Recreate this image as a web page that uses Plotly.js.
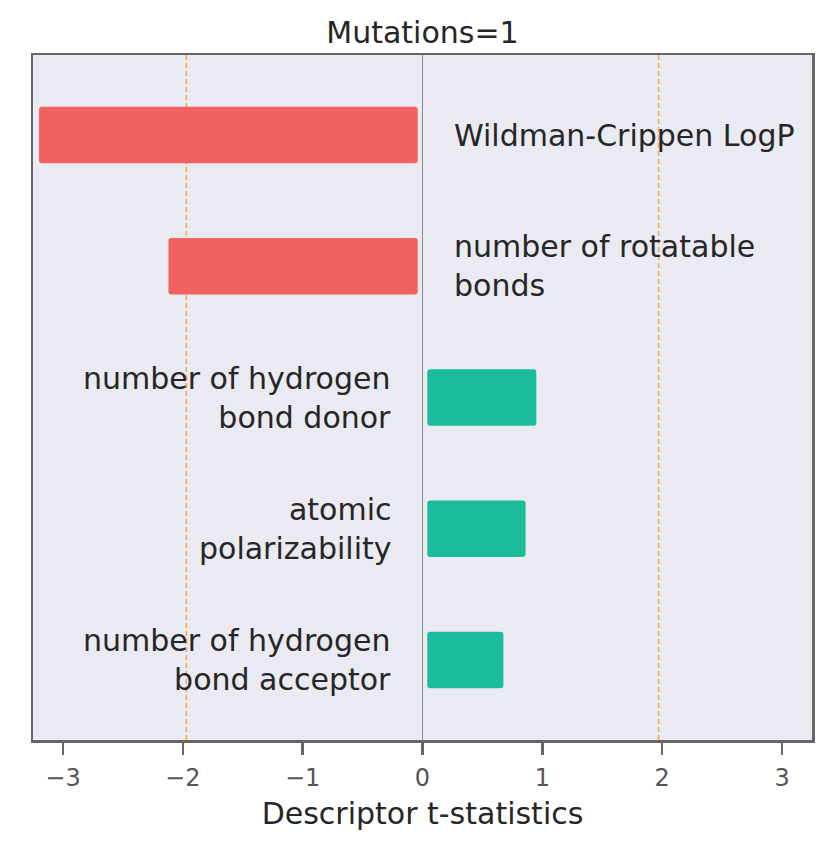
<!DOCTYPE html>
<html>
<head>
<meta charset="utf-8">
<script src="https://cdn.plot.ly/plotly-3.0.1.min.js"></script>
<style>html,body{margin:0;padding:0;background:#fff;}</style>
</head>
<body>
<div id="chart" style="width:829px;height:849px;"></div>
<script>
// Data
const descriptors = [
  "Wildman-Crippen LogP",
  "number of rotatable<br>bonds",
  "number of hydrogen<br>bond donor",
  "atomic<br>polarizability",
  "number of hydrogen<br>bond acceptor"
];
const tStats = [-3.2, -2.12, 0.95, 0.86, 0.675];
const critical = [-1.97, 1.97];
const xTicks = [-3, -2, -1, 0, 1, 2, 3];
const titleText = "Mutations=1";
const xTitle = "Descriptor t-statistics";

// Styling
const GAP = 0.04;
const RED = "#F06262";
const GREEN = "#1ABC9C";
const FONT = "DejaVu Sans";
const cats = descriptors.map((d, i) => "c" + i);

const bases = tStats.map(v => v < 0 ? -GAP : GAP);
const lens = tStats.map((v, i) => v - bases[i]);

const trace = {
  type: "bar",
  orientation: "h",
  y: cats,
  x: lens,
  base: bases,
  width: 0.43,
  marker: {
    color: tStats.map(v => v < 0 ? RED : GREEN),
    cornerradius: 3,
    line: {width: 0}
  },
  hoverinfo: "skip"
};

const annotations = descriptors.map((d, i) => {
  const neg = tStats[i] < 0;
  return {
    x: neg ? 0.245 : -0.245,
    y: cats[i],
    xref: "x", yref: "y",
    text: d,
    showarrow: false,
    xanchor: neg ? "left" : "right",
    yanchor: "middle",
    align: neg ? "left" : "right",
    font: {family: FONT, size: 30, color: "#262626"}
  };
});

const shapes = critical.map(c => ({
  type: "line",
  xref: "x", yref: "paper",
  x0: c, x1: c, y0: 0, y1: 1,
  line: {color: "#F5A742", width: 1.5, dash: "5px,3px"},
  layer: "below"
}));

const layout = {
  width: 829, height: 849,
  margin: {l: 33, r: 17, t: 55, b: 109},
  paper_bgcolor: "#ffffff",
  plot_bgcolor: "#EAEAF2",
  showlegend: false,
  font: {family: FONT, color: "#262626"},
  title: {
    text: titleText,
    font: {family: FONT, size: 30, color: "#262626"},
    xref: "paper", x: 0.5, xanchor: "center",
    yref: "container", y: 1 - 32 / 849, yanchor: "middle"
  },
  xaxis: {
    range: [-3.25, 3.25],
    tickvals: xTicks,
    ticks: "outside", ticklen: 12, tickwidth: 2.5, tickcolor: "#666666",
    tickfont: {family: FONT, size: 24, color: "#555555"},
    ticklabelstandoff: 3,
    showgrid: false,
    zeroline: true, zerolinecolor: "#8c8c8c", zerolinewidth: 1,
    showline: true, mirror: true, linecolor: "#666666", linewidth: 2.5,
    title: {text: xTitle, font: {family: FONT, size: 30, color: "#262626"}, standoff: 12}
  },
  yaxis: {
    type: "category",
    categoryorder: "array", categoryarray: cats,
    range: [4.61, -0.61],
    showticklabels: false, ticks: "",
    showgrid: false, zeroline: false,
    showline: true, mirror: true, linecolor: "#666666", linewidth: 2.5
  },
  shapes: shapes,
  annotations: annotations
};

Plotly.newPlot("chart", [trace], layout, {displayModeBar: false, staticPlot: true});
</script>
</body>
</html>
